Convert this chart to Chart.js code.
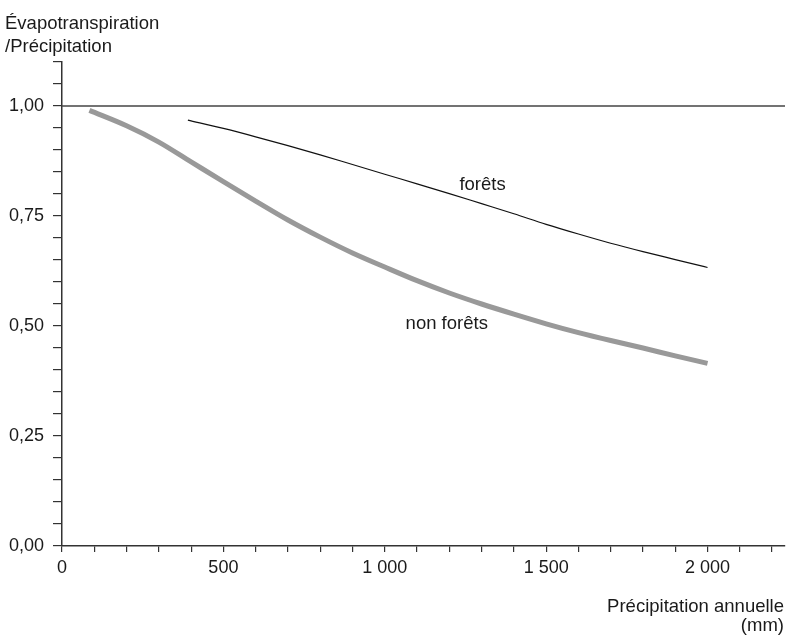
<!DOCTYPE html>
<html>
<head>
<meta charset="utf-8">
<script src="https://cdn.jsdelivr.net/npm/chart.js@4/dist/chart.umd.min.js"></script>
<style>
  body { margin: 0; background: #fff; }
  #graf { display: block; }
</style>
</head>
<body>
<canvas id="graf" width="786" height="635"></canvas>
<script>
// precipitation (mm) and ET/P ratio
const precipNonForets = [85, 200, 300, 400, 500, 600, 700, 800, 900, 1000, 1100, 1200, 1300, 1400, 1500, 1600, 1700, 1800, 1900, 2000];
const ratioNonForets = [0.99, 0.955, 0.918, 0.873, 0.828, 0.784, 0.741, 0.702, 0.666, 0.634, 0.603, 0.575, 0.55, 0.527, 0.505, 0.485, 0.467, 0.45, 0.432, 0.415];

const precipForets = [390, 500, 600, 700, 800, 900, 1000, 1100, 1200, 1300, 1400, 1500, 1600, 1700, 1800, 1900, 2000];
const ratioForets = [0.968, 0.949, 0.93, 0.91, 0.889, 0.867, 0.845, 0.823, 0.801, 0.778, 0.755, 0.731, 0.709, 0.688, 0.669, 0.651, 0.633];

const ligneUn = [0, 2240];
const xMax = 2240;
const yMax = 1.1;

const fonte = "'Liberation Sans', Arial, sans-serif";

function pontos(xs, ys) {
  return xs.map((x, i) => ({ x: x, y: ys[i] }));
}

function formataX(v) {
  if (v % 500 !== 0) return "";
  return v >= 1000 ? Math.floor(v / 1000) + " " + String(v % 1000).padStart(3, "0") : String(v);
}

function formataY(v) {
  const r = Math.round(v * 100);
  if (r % 25 !== 0) return "";
  return (r / 100).toFixed(2).replace(".", ",");
}

const textos = {
  id: "textos",
  afterDraw(chart) {
    const ctx = chart.ctx;
    const sx = chart.scales.x;
    const sy = chart.scales.y;
    ctx.save();
    ctx.fillStyle = "#1a1a1a";
    ctx.font = "18.5px " + fonte;
    ctx.textBaseline = "alphabetic";
    ctx.textAlign = "left";
    ctx.fillText("Évapotranspiration", 5, 29);
    ctx.fillText("/Précipitation", 5, 52);
    ctx.textAlign = "right";
    ctx.fillText("Précipitation annuelle", 784, 612);
    ctx.fillText("(mm)", 784, 631);
    ctx.textAlign = "center";
    ctx.textBaseline = "middle";
    ctx.fillText("forêts", sx.getPixelForValue(1303), sy.getPixelForValue(0.82));
    ctx.fillText("non forêts", sx.getPixelForValue(1192), sy.getPixelForValue(0.504));
    ctx.restore();
  },
};

const grafico = new Chart(document.getElementById("graf"), {
  type: "line",
  data: {
    datasets: [
      {
        label: "1,00",
        data: pontos(ligneUn, [1, 1]),
        borderColor: "#444",
        borderWidth: 1.5,
        pointRadius: 0,
      },
      {
        label: "non forêts",
        data: pontos(precipNonForets, ratioNonForets),
        borderColor: "#999",
        borderWidth: 5,
        pointRadius: 0,
        cubicInterpolationMode: "monotone",
        borderCapStyle: "butt",
      },
      {
        label: "forêts",
        data: pontos(precipForets, ratioForets),
        borderColor: "#111",
        borderWidth: 1.2,
        pointRadius: 0,
        cubicInterpolationMode: "monotone",
      },
    ],
  },
  options: {
    responsive: false,
    animation: false,
    devicePixelRatio: 1,
    layout: { padding: { top: 62, right: 1, left: 0, bottom: 0 } },
    plugins: { legend: { display: false }, tooltip: { enabled: false } },
    scales: {
      x: {
        type: "linear",
        min: 0,
        max: xMax,
        afterFit: (s) => { s.height = 89; },
        border: { display: true, color: "#333", width: 1.5 },
        grid: { drawOnChartArea: false, drawTicks: true, tickLength: 6, color: "#333", lineWidth: 1.2 },
        ticks: {
          stepSize: 100,
          includeBounds: false,
          autoSkip: false,
          maxRotation: 0,
          padding: 5,
          color: "#1a1a1a",
          font: { family: fonte, size: 18 },
          callback: (v) => formataX(v),
        },
      },
      y: {
        type: "linear",
        min: 0,
        max: yMax,
        afterFit: (s) => { s.width = 62; },
        border: { display: true, color: "#333", width: 1.5 },
        grid: { drawOnChartArea: false, drawTicks: true, tickLength: 9, color: "#333", lineWidth: 1.2 },
        ticks: {
          stepSize: 0.05,
          autoSkip: false,
          padding: 9,
          color: "#1a1a1a",
          font: { family: fonte, size: 18 },
          callback: (v) => formataY(v),
        },
      },
    },
  },
  plugins: [textos],
});
</script>
</body>
</html>
